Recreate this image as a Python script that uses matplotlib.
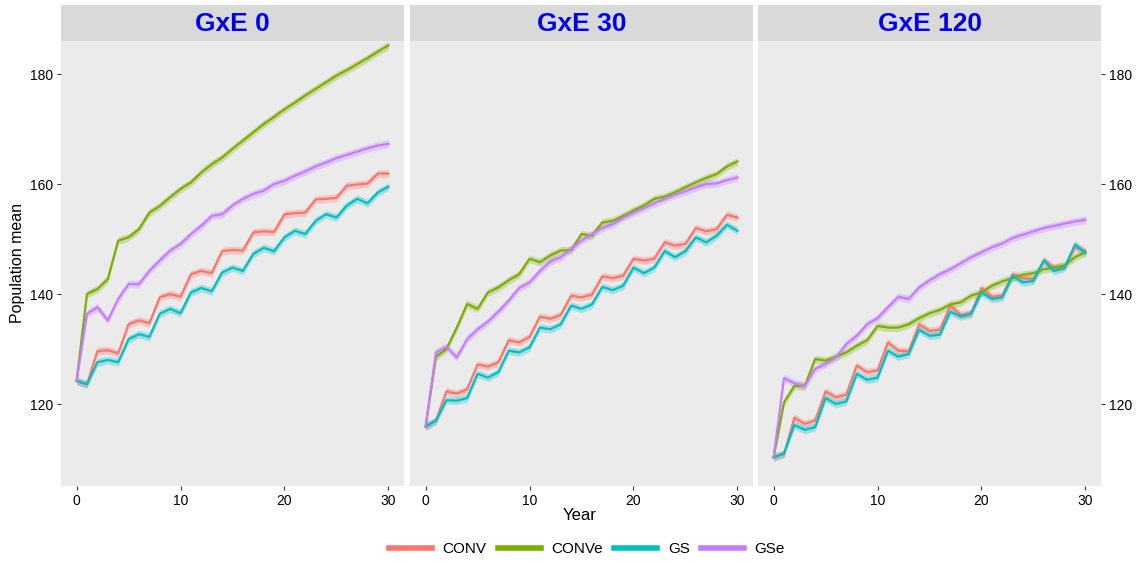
import numpy as np
import matplotlib.pyplot as plt

plt.rcParams['font.family'] = ['Liberation Sans', 'DejaVu Sans']

years = np.arange(0, 31)
panels = ['GxE 0', 'GxE 30', 'GxE 120']
strategies = ['CONV', 'CONVe', 'GS', 'GSe']
colors = {'CONV': '#F8766D', 'CONVe': '#7CAE00', 'GS': '#00BFC4', 'GSe': '#C77CFF'}

# GxE 0
conv_0 = [124.2, 123.6, 129.6, 129.8, 129.2, 134.5, 135.2, 134.7, 139.4, 140.0, 139.5,
          143.6, 144.2, 143.8, 147.8, 148.0, 147.9, 151.2, 151.4, 151.3, 154.5,
          154.7, 154.8, 157.2, 157.3, 157.5, 159.7, 159.9, 160.1, 161.9, 161.9]
conve_0 = [124.2, 140.0, 140.9, 142.7, 149.7, 150.3, 151.8, 154.8, 156.0, 157.6, 159.1,
           160.3, 162.1, 163.6, 164.8, 166.4, 167.9, 169.4, 170.9, 172.2, 173.6,
           174.8, 176.1, 177.3, 178.5, 179.7, 180.7, 181.8, 182.9, 184.1, 185.2]
gs_0 = [124.2, 123.6, 127.6, 128.0, 127.6, 131.8, 132.7, 132.2, 136.4, 137.3, 136.5,
        140.3, 141.1, 140.5, 143.9, 144.8, 144.2, 147.3, 148.4, 147.8, 150.3,
        151.5, 150.9, 153.3, 154.5, 153.9, 156.1, 157.3, 156.5, 158.5, 159.5]
gse_0 = [124.2, 136.4, 137.6, 135.2, 139.1, 141.8, 141.8, 144.2, 146.1, 147.9, 149.1,
         150.9, 152.4, 154.2, 154.5, 156.1, 157.3, 158.2, 158.8, 160.0, 160.6,
         161.5, 162.3, 163.2, 163.9, 164.7, 165.3, 165.9, 166.5, 167.0, 167.3]

# GxE 30
conv_30 = [115.9, 117.0, 122.3, 121.9, 122.7, 127.2, 126.8, 127.6, 131.6, 131.2, 132.2,
           135.9, 135.5, 136.2, 139.7, 139.4, 139.9, 143.2, 142.9, 143.3, 146.4,
           146.1, 146.4, 149.4, 148.8, 149.1, 152.0, 151.4, 151.8, 154.4, 153.9]
conve_30 = [115.9, 128.6, 130.0, 133.9, 138.2, 137.3, 140.3, 141.2, 142.5, 143.6, 146.4,
            145.8, 147.0, 147.9, 148.0, 150.9, 150.6, 153.0, 153.3, 154.2, 155.2,
            156.1, 157.3, 157.7, 158.5, 159.4, 160.3, 161.1, 161.8, 163.2, 164.1]
gs_30 = [115.9, 117.0, 120.7, 120.6, 121.1, 125.5, 124.8, 125.8, 129.7, 129.4, 130.3,
         133.9, 133.6, 134.5, 137.9, 137.3, 138.1, 141.3, 140.7, 141.5, 144.8,
         143.8, 144.8, 147.8, 146.7, 147.8, 150.3, 149.4, 150.6, 152.6, 151.5]
gse_30 = [115.9, 129.4, 130.4, 128.5, 131.8, 133.6, 135.0, 136.8, 138.8, 141.1, 142.1,
          144.2, 145.9, 146.7, 148.2, 149.7, 150.9, 152.0, 152.7, 153.9, 154.8,
          155.6, 156.5, 157.3, 158.1, 158.7, 159.4, 160.0, 160.1, 160.7, 161.2]

# GxE 120
conv_120 = [110.3, 110.9, 117.5, 116.4, 117.0, 122.3, 121.2, 121.7, 127.0, 125.8, 126.1,
            131.2, 129.7, 129.6, 134.5, 133.3, 133.5, 137.9, 136.2, 136.5, 141.1,
            139.5, 139.7, 143.6, 142.9, 142.7, 146.1, 144.8, 145.0, 148.5, 147.8]
conve_120 = [110.3, 120.3, 123.3, 123.3, 128.2, 127.9, 128.6, 129.4, 130.6, 131.6, 134.2,
             133.9, 133.9, 134.5, 135.6, 136.5, 137.1, 138.1, 138.5, 139.7, 140.3,
             141.5, 142.3, 142.9, 143.5, 143.8, 144.5, 144.8, 145.2, 146.7, 147.6]
gs_120 = [110.3, 111.0, 116.2, 115.3, 115.8, 121.1, 120.0, 120.5, 125.5, 124.4, 124.8,
          129.7, 128.6, 129.1, 133.5, 132.4, 132.6, 136.8, 135.9, 136.4, 140.3,
          139.1, 139.4, 143.3, 142.1, 142.4, 146.1, 144.2, 144.8, 149.0, 147.5]
gse_120 = [110.3, 124.7, 123.8, 123.3, 126.4, 127.3, 128.5, 130.9, 132.4, 134.5, 135.6,
           137.6, 139.5, 139.1, 141.2, 142.5, 143.6, 144.5, 145.6, 146.7, 147.6,
           148.5, 149.2, 150.2, 150.8, 151.4, 152.0, 152.4, 152.8, 153.2, 153.5]

data = {
    'GxE 0': {'CONV': conv_0, 'CONVe': conve_0, 'GS': gs_0, 'GSe': gse_0},
    'GxE 30': {'CONV': conv_30, 'CONVe': conve_30, 'GS': gs_30, 'GSe': gse_30},
    'GxE 120': {'CONV': conv_120, 'CONVe': conve_120, 'GS': gs_120, 'GSe': gse_120},
}
band = 0.7  # half width of the confidence ribbon

W, H = 1136, 563
fig = plt.figure(figsize=(W / 100, H / 100), dpi=100)

lefts = [61, 410, 758]
pw = 343
top, bottom, strip_top = 41, 486, 5

for i, name in enumerate(panels):
    ax = fig.add_axes([lefts[i] / W, 1 - bottom / H, pw / W, (bottom - top) / H])
    ax.set_facecolor('#EBEBEB')
    for s in strategies:
        y = np.array(data[name][s])
        ax.fill_between(years, y - band, y + band, color=colors[s], alpha=0.3, lw=0)
        ax.plot(years, y, color=colors[s], lw=1.6)
    ax.set_xlim(-1.5, 31.5)
    ax.set_ylim(105.1, 186.0)
    ax.set_xticks([0, 10, 20, 30])
    ax.set_yticks([120, 140, 160, 180])
    for sp in ax.spines.values():
        sp.set_visible(False)
    ax.tick_params(colors='#333333', labelcolor='black', length=3, width=0.8,
                   labelsize=10, pad=2.5)
    if i == 0:
        ax.tick_params(axis='y', left=True, labelleft=True)
    elif i == 2:
        ax.yaxis.tick_right()
    else:
        ax.tick_params(axis='y', left=False, labelleft=False)

    sax = fig.add_axes([lefts[i] / W, 1 - top / H, pw / W, (top - strip_top) / H])
    sax.set_facecolor('#D9D9D9')
    sax.set_xticks([])
    sax.set_yticks([])
    for sp in sax.spines.values():
        sp.set_visible(False)
    sax.text(0.5, 0.48, name, ha='center', va='center', color='#0000EE',
             fontsize=19, fontweight='bold', transform=sax.transAxes)

fig.text(18 / W, 1 - 263 / H, 'Population mean', rotation=90, ha='center',
         va='center', fontsize=11.5)
fig.text(580 / W, 1 - 515 / H, 'Year', ha='center', va='center', fontsize=12)

handles = [plt.Line2D([], [], color=colors[s], lw=4) for s in strategies]
fig.legend(handles, strategies, loc='center', bbox_to_anchor=(587 / W, 1 - 549 / H),
           ncol=4, frameon=False, fontsize=11, handlelength=2.8,
           columnspacing=0.75, handletextpad=0.7)

fig.savefig('out.png', dpi=100)
